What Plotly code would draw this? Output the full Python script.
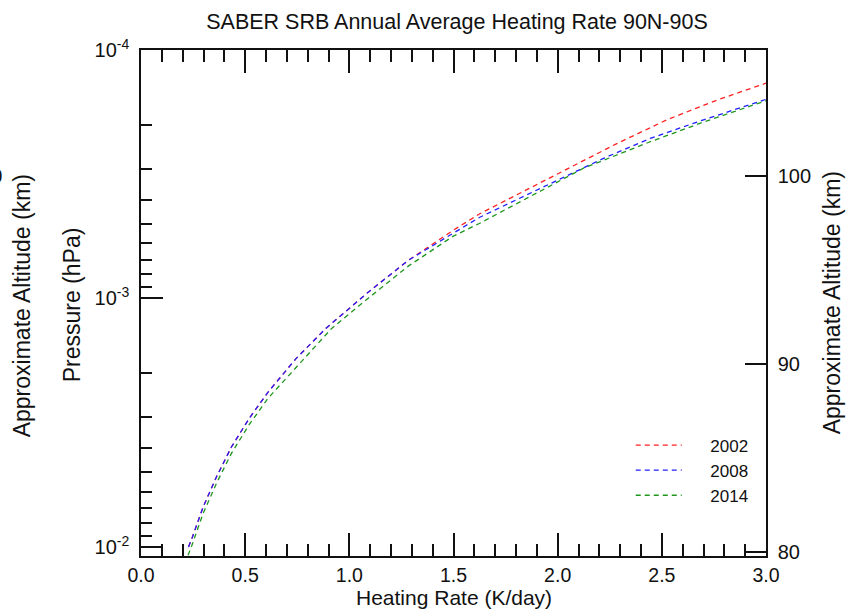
import plotly.graph_objects as go

# ---- data ----
hr_2002 = [0.228, 0.244, 0.298, 0.362, 0.434, 0.519, 0.610, 0.743, 0.887, 1.083,
           1.283, 1.499, 1.624, 2.000, 2.284, 2.524, 2.765, 3.000]
p_2002 = [1.00e-2, 9.26e-3, 6.91e-3, 5.23e-3, 3.96e-3, 3.04e-3, 2.38e-3, 1.75e-3, 1.32e-3, 9.55e-4,
          7.02e-4, 5.31e-4, 4.57e-4, 3.16e-4, 2.38e-4, 1.91e-4, 1.59e-4, 1.36e-4]

hr_2008 = [0.228, 0.244, 0.298, 0.362, 0.434, 0.519, 0.610, 0.743, 0.887, 1.083,
           1.283, 1.499, 1.624, 2.000, 2.220, 2.444, 2.700, 3.000]
p_2008 = [1.00e-2, 9.26e-3, 6.91e-3, 5.23e-3, 3.96e-3, 3.04e-3, 2.38e-3, 1.75e-3, 1.32e-3, 9.55e-4,
          7.02e-4, 5.46e-4, 4.72e-4, 3.34e-4, 2.73e-4, 2.27e-4, 1.91e-4, 1.58e-4]

hr_2014 = [0.226, 0.244, 0.298, 0.362, 0.434, 0.519, 0.610, 0.754, 0.915, 1.083,
           1.283, 1.499, 1.624, 2.124, 2.444, 2.700, 3.000]
p_2014 = [1.08e-2, 9.86e-3, 7.33e-3, 5.55e-3, 4.20e-3, 3.22e-3, 2.52e-3, 1.86e-3, 1.32e-3, 1.01e-3,
          7.41e-4, 5.61e-4, 4.99e-4, 2.99e-4, 2.34e-4, 1.95e-4, 1.60e-4]

years = ["2002", "2008", "2014"]
colors = ["#ff2020", "#2020ff", "#1e961e"]

x_ticks = [0.0, 0.5, 1.0, 1.5, 2.0, 2.5, 3.0]
x_ticklabels = ["0.0", "0.5", "1.0", "1.5", "2.0", "2.5", "3.0"]
p_ticks = [1e-4, 1e-3, 1e-2]
p_ticklabels = ["10<sup>-4</sup>", "10<sup>-3</sup>", "10<sup>-2</sup>"]
p_minor = [m * 10.0 ** e for e in (-4, -3, -2) for m in range(2, 10)]
alt_ticks = [80, 90, 100]
alt_ticklabels = ["80", "90", "100"]

P_RANGE = [-1.9637, -4.0]      # log10(hPa), bottom -> top
ALT_RANGE = [79.78, 106.69]    # km

FONT = "Liberation Sans, Arial, Helvetica, sans-serif"

fig = go.Figure()
for yr, hr, p, c in zip(years, [hr_2002, hr_2008, hr_2014],
                        [p_2002, p_2008, p_2014], colors):
    fig.add_trace(go.Scatter(
        x=hr, y=p, mode="lines", name="\u00a0\u00a0\u00a0\u00a0\u00a0" + yr,
        line=dict(color=c, width=1.3, dash="5px,4px"),
        xaxis="x", yaxis="y"))

# invisible traces to activate top x axis and right altitude axis
fig.add_trace(go.Scatter(x=[None], y=[None], xaxis="x2", yaxis="y",
                         showlegend=False, hoverinfo="skip"))
fig.add_trace(go.Scatter(x=[None], y=[None], xaxis="x", yaxis="y2",
                         showlegend=False, hoverinfo="skip"))

axis_common = dict(showline=True, linecolor="#111", linewidth=1.5,
                   ticks="inside", tickcolor="#111", tickwidth=1.5,
                   showgrid=False, zeroline=False)

fig.update_layout(
    width=846, height=609,
    margin=dict(l=141, r=80, t=50, b=53),
    paper_bgcolor="white", plot_bgcolor="white",
    font=dict(family=FONT, size=20, color="#111"),
    title=dict(text="SABER SRB Annual Average Heating Rate 90N-90S",
               font=dict(family=FONT, size=21.5, color="#111"),
               x=(457 - 141) / 625, xref="paper", xanchor="center",
               y=1 - 21 / 609, yref="container", yanchor="middle"),
    xaxis=dict(range=[0, 3], tickvals=x_ticks, ticktext=x_ticklabels,
               ticklen=23, ticklabelstandoff=1,
               minor=dict(ticks="inside", dtick=0.1, tick0=0, ticklen=12,
                          tickwidth=1.5, tickcolor="#111"),
               tickfont=dict(size=19.5), **axis_common),
    xaxis2=dict(range=[0, 3], overlaying="x", side="top", matches="x",
                tickvals=x_ticks, showticklabels=False, ticklen=23,
                minor=dict(ticks="inside", dtick=0.1, tick0=0, ticklen=12,
                           tickwidth=1.5, tickcolor="#111"),
                **axis_common),
    yaxis=dict(type="log", range=P_RANGE, tickvals=p_ticks, ticktext=p_ticklabels,
               ticklen=22, ticklabelstandoff=6,
               minor=dict(ticks="inside", tickvals=p_minor, ticklen=11,
                          tickwidth=1.5, tickcolor="#111"),
               tickfont=dict(size=20), **axis_common),
    yaxis2=dict(range=ALT_RANGE, overlaying="y", side="right",
                tickvals=alt_ticks, ticktext=alt_ticklabels, ticklen=21,
                ticklabelstandoff=6,
                tickfont=dict(size=20), **axis_common),
    showlegend=True,
    legend=dict(x=0.7836, y=0.254, xanchor="left", yanchor="top",
                bgcolor="rgba(0,0,0,0)", font=dict(size=17, color="#111"),
                tracegroupgap=0, itemwidth=46),
    annotations=[
        dict(text="Heating Rate (K/day)", xref="paper", yref="paper",
             x=0.5, y=-(597 - 555.7) / 506, xanchor="center", yanchor="middle",
             showarrow=False, font=dict(size=21)),
        dict(text="Pressure (hPa)", xref="paper", yref="paper",
             x=-(141 - 72) / 625, y=(555.7 - 305) / 506, xanchor="center", yanchor="middle",
             textangle=-90, showarrow=False, font=dict(size=23)),
        dict(text="Approximate Altitude (km)", xref="paper", yref="paper",
             x=-(141 - 22) / 625, y=(555.7 - 305) / 506, xanchor="center", yanchor="middle",
             textangle=-90, showarrow=False, font=dict(size=23)),
        dict(text="Approximate Altitude (km)", xref="paper", yref="paper",
             x=(832 - 141) / 625, y=(555.7 - 303) / 506, xanchor="center", yanchor="middle",
             textangle=-90, showarrow=False, font=dict(size=23)),
        dict(text="100", xref="paper", yref="paper",
             x=-(141 - 3.5) / 625, y=(555.7 - 175.7) / 506,
             xanchor="right", yanchor="middle", showarrow=False,
             font=dict(size=20)),
    ],
)

fig.write_html("out.html")
